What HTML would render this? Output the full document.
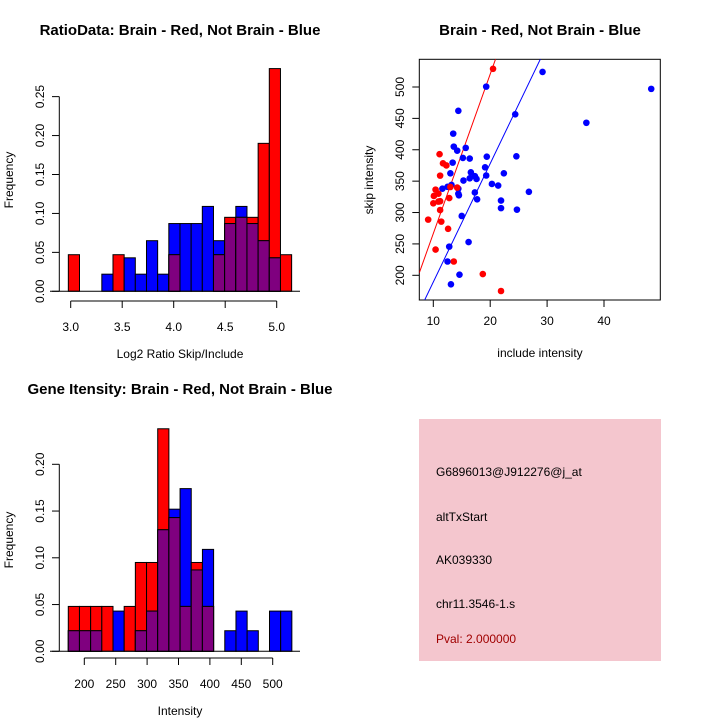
<!DOCTYPE html>
<html><head><meta charset="utf-8"><style>
html,body{margin:0;padding:0;background:#fff;}
svg{display:block;font-family:"Liberation Sans",sans-serif;}
</style></head><body>
<svg id="c" width="720" height="720" viewBox="0 0 720 720">
<g id="tl"></g>
<g id="tr"></g>
<g id="bl"></g>
<g>
<rect x="419" y="419" width="242" height="242" fill="#f4c6ce"/>
<text x="436" y="476" font-size="12">G6896013@J912276@j_at</text>
<text x="436" y="521" font-size="12">altTxStart</text>
<text x="436" y="564" font-size="12">AK039330</text>
<text x="436" y="608" font-size="12">chr11.3546-1.s</text>
<text x="436" y="643" font-size="12" fill="#a00000">Pval: 2.000000</text>
</g>
</svg>
<script>
// Ratio histogram data
const ratioBreakStart = 2.977, ratioBinWidth = 0.1084;
const ratioRed  = [0.047,0,0,0,0.047,0,0,0,0,0.047,0,0,0,0.047,0.095,0.095,0.095,0.190,0.286,0.047];
const ratioBlue = [0,0,0,0.022,0,0.043,0.022,0.065,0.022,0.087,0.087,0.087,0.109,0.065,0.087,0.109,0.087,0.065,0.043,0];
const ratioXTicks = [3.0,3.5,4.0,4.5,5.0];
const ratioYTicks = [0,0.05,0.10,0.15,0.20,0.25];
// Gene intensity histogram data
const intBreakStart = 174.5, intBinWidth = 17.8;
const intRed  = [0.048,0.048,0.048,0.048,0,0.048,0.095,0.095,0.238,0.143,0.048,0.095,0.048,0,0,0,0,0,0,0];
const intBlue = [0.022,0.022,0.022,0,0.043,0,0.022,0.043,0.130,0.152,0.174,0.087,0.109,0,0.022,0.043,0.022,0,0.043,0.043];
const intXTicks = [200,250,300,350,400,450,500];
const intYTicks = [0,0.05,0.10,0.15,0.20];
// Scatter data
const blueX = [19.3,29.2,48.3,36.9,24.4,14.4,13.5,13.6,14.2,15.7,13.4,15.2,16.4,19.4,24.6,19.1,16.6,13.0,22.4,19.3,17.3,16.4,17.6,15.3,11.6,12.5,13.2,14.4,14.4,14.5,17.3,20.3,21.4,26.8,17.7,21.9,21.9,24.7,15.0,16.2,12.8,12.5,14.6,13.1];
const blueY = [500.6,524,497,443,456.5,462,425.7,405,398.6,403,379.5,387,386,389,389.6,372,364,362.5,362.5,359,358,354.5,353.5,351,338,341,344,338,330,327.5,332,345.5,343,333,321,319,307,304.6,294.5,253,245.7,222,201,185.7];
const redX = [20.5,11.1,11.7,12.3,11.2,10.4,10.1,10.9,10.0,10.9,11.2,12.8,13.0,14.2,11.2,9.1,11.4,12.6,10.4,13.6,18.7,21.9];
const redY = [529,393,378.4,375,358.8,336.5,326.4,330,314.7,317.4,318,323,340.7,339.7,304,288.7,285.5,274,241,222,202,175];
const redFit = [12.5,25.4];   // intercept, slope
const blueFit = [0.6,18.87];
const scXTicks = [10,20,30,40];
const scYTicks = [200,250,300,350,400,450,500];

const NS="http://www.w3.org/2000/svg";
function mk(parent,tag,attrs,txt){const e=document.createElementNS(NS,tag);for(const k in attrs)e.setAttribute(k,attrs[k]);if(txt!==undefined)e.textContent=txt;parent.appendChild(e);return e;}

function hist(g,o){
  const sx=v=>o.x0+(v-o.xv0)*o.kx, sy=v=>o.y0-v*o.ky;
  const t=mk(g,'text',{x:o.tx,y:o.ty,'font-size':15,'font-weight':'bold','text-anchor':'middle'},o.title);
  
  
  const n=o.red.length;
  for(let i=0;i<n;i++){
    const a=sx(o.bs+i*o.bw), b=sx(o.bs+(i+1)*o.bw);
    const r=o.red[i], bl=o.blue[i], m=Math.min(r,bl);
    const order = r>=bl ? [['red',r],['blue',bl]] : [['blue',bl],['red',r]];
    for(const [col,v] of order){
      if(v<=0) continue;
      const rc=mk(g,'rect',{x:a,y:sy(v),width:b-a,height:sy(0)-sy(v),fill:col==='red'?'#ff0000':'#0000ff',stroke:'#000','stroke-width':1});
      
      
    }
    if(m>0){
      const rc=mk(g,'rect',{x:a,y:sy(m),width:b-a,height:sy(0)-sy(m),fill:'#7f007f',stroke:'#000','stroke-width':1});
      
      
    }
  }
  const bl=mk(g,'line',{x1:50,x2:300,y1:sy(0),y2:sy(0),stroke:'#000'});
  
  
  const ya=mk(g,'line',{x1:59.3,x2:59.3,y1:sy(o.yt[0]),y2:sy(o.yt[o.yt.length-1]),stroke:'#000'});
  
  
  o.yt.forEach(v=>{
    mk(g,'line',{x1:52,x2:59.3,y1:sy(v),y2:sy(v),stroke:'#000'});
    const y=sy(v);
    const l=mk(g,'text',{x:0,y:0,'font-size':12,'text-anchor':'middle',transform:`translate(44,${y}) rotate(-90)`},v.toFixed(2));
    
    
  });
  const xa=mk(g,'line',{x1:sx(o.xt[0]),x2:sx(o.xt[o.xt.length-1]),y1:o.axY,y2:o.axY,stroke:'#000'});
  
  
  o.xt.forEach(v=>{
    mk(g,'line',{x1:sx(v),x2:sx(v),y1:o.axY,y2:o.axY+7,stroke:'#000'});
    const l=mk(g,'text',{x:sx(v),y:o.axY+30,'font-size':12,'text-anchor':'middle'},o.fmt(v));
    
    
  });
  const xl=mk(g,'text',{x:180,y:o.axY+57,'font-size':12,'text-anchor':'middle'},o.xlab);
  
  
  const yl=mk(g,'text',{x:0,y:0,'font-size':12,'text-anchor':'middle',transform:`translate(13,${o.ylabY}) rotate(-90)`},'Frequency');
  
  
}

hist(document.getElementById('tl'),{x0:70.7,xv0:3.0,kx:103,y0:291.3,ky:778.7,bs:ratioBreakStart,bw:ratioBinWidth,red:ratioRed,blue:ratioBlue,xt:ratioXTicks,yt:ratioYTicks,axY:301,fmt:v=>v.toFixed(1),xlab:'Log2 Ratio Skip/Include',ylabY:180,title:'RatioData: Brain - Red, Not Brain - Blue',tx:180,ty:35});
hist(document.getElementById('bl'),{x0:84.3,xv0:200,kx:0.628,y0:651.3,ky:935,bs:intBreakStart,bw:intBinWidth,red:intRed,blue:intBlue,xt:intXTicks,yt:intYTicks,axY:658,fmt:v=>String(v),xlab:'Intensity',ylabY:540,title:'Gene Itensity: Brain - Red, Not Brain - Blue',tx:180,ty:394});

(function(){
  const g=document.getElementById('tr');
  const L=419.3,R=660.3,T=59.3,B=300;
  const sx=v=>433.3+(v-10)*5.69, sy=v=>275.3-(v-200)*0.6277;
  const t=mk(g,'text',{x:540,y:35,'font-size':15,'font-weight':'bold','text-anchor':'middle'},'Brain - Red, Not Brain - Blue');
  
  
  const defs=mk(g,'defs',{});
  const cp=mk(defs,'clipPath',{id:'sc'});
  mk(cp,'rect',{x:L,y:T,width:R-L,height:B-T});
  const box=mk(g,'rect',{x:L,y:T,width:R-L,height:B-T,fill:'none',stroke:'#000'});
  
  
  const xmin=(L-433.3)/5.69+10, xmax=(R-433.3)/5.69+10;
  [[redFit,'#ff0000','red-fit-line'],[blueFit,'#0000ff','blue-fit-line']].forEach(([f,c,n])=>{
    const ln=mk(g,'line',{x1:sx(xmin),y1:sy(f[0]+f[1]*xmin),x2:sx(xmax),y2:sy(f[0]+f[1]*xmax),stroke:c,'clip-path':'url(#sc)'});
    
    
  });
  blueX.forEach((x,i)=>{
    const p=mk(g,'circle',{cx:sx(x),cy:sy(blueY[i]),r:3.3,fill:'#0000ff'});
    
    
  });
  redX.forEach((x,i)=>{
    const p=mk(g,'circle',{cx:sx(x),cy:sy(redY[i]),r:3.3,fill:'#ff0000'});
    
    
  });
  scXTicks.forEach(v=>{
    mk(g,'line',{x1:sx(v),x2:sx(v),y1:B,y2:B+7,stroke:'#000'});
    const l=mk(g,'text',{x:sx(v),y:B+25,'font-size':12,'text-anchor':'middle'},String(v));
    
    
  });
  scYTicks.forEach(v=>{
    mk(g,'line',{x1:L-7,x2:L,y1:sy(v),y2:sy(v),stroke:'#000'});
    const l=mk(g,'text',{x:0,y:0,'font-size':12,'text-anchor':'middle',transform:`translate(404,${sy(v)}) rotate(-90)`},String(v));
    
    
  });
  const xl=mk(g,'text',{x:540,y:357,'font-size':12,'text-anchor':'middle'},'include intensity');
  
  
  const yl=mk(g,'text',{x:0,y:0,'font-size':12,'text-anchor':'middle',transform:'translate(373,180) rotate(-90)'},'skip intensity');
  
  
})();
</script>
</body></html>
